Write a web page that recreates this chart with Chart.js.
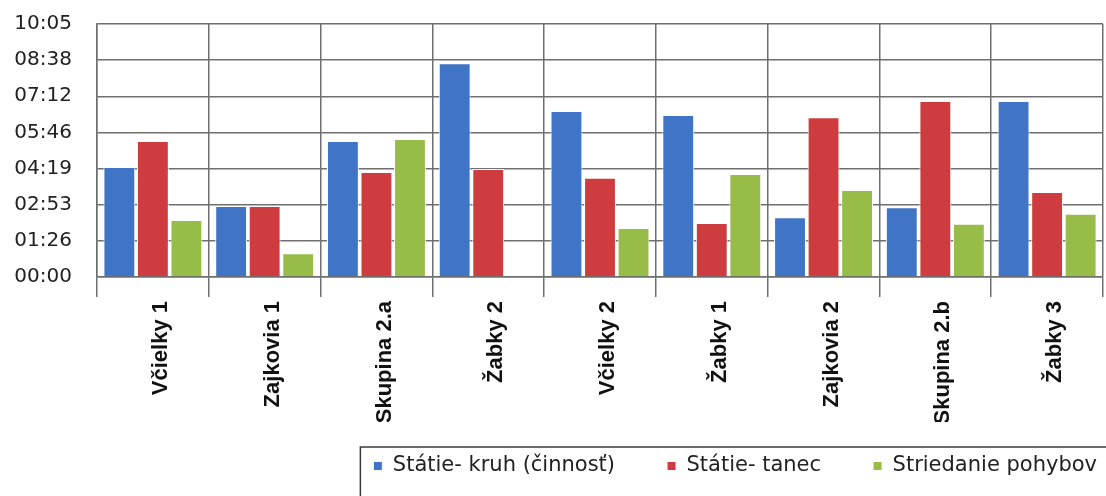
<!DOCTYPE html>
<html>
<head>
<meta charset="utf-8">
<script src="https://cdn.jsdelivr.net/npm/chart.js@4.4.1/dist/chart.umd.min.js"></script>
<style>
  html, body { margin: 0; padding: 0; background: #fff; }
  #wrap { width: 1106px; height: 496px; }
</style>
</head>
<body>
<div id="wrap"><canvas id="chart" width="1106" height="496"></canvas></div>
<script>
// Groups on the x axis
const GROUPS = ["Včielky 1", "Zajkovia 1", "Skupina 2.a", "Žabky 2", "Včielky 2", "Žabky 1", "Zajkovia 2", "Skupina 2.b", "Žabky 3"];

// Durations in seconds
const KRUH = [263, 170, 325, 511, 397, 387, 143, 167, 421];
const TANEC = [325, 170, 251, 258, 237, 129, 382, 421, 203];
const STRIEDANIE = [136, 57, 330, 0, 117, 246, 208, 127, 151];

const SERIES_NAMES = ["Státie- kruh (činnosť)", "Státie- tanec", "Striedanie pohybov"];

// Y ticks in seconds (Excel step 0.001 day = 86.4 s)
const Y_TICKS = [0, 86.4, 172.8, 259.2, 345.6, 432, 518.4, 604.8];

const COLORS = ["#3f74c6", "#cf3c3f", "#97bd48"];
const GRID = "#6f6f6f";

function mmss(sec) {
  const s = Math.round(sec);
  const m = Math.floor(s / 60);
  const r = s % 60;
  return String(m).padStart(2, "0") + ":" + String(r).padStart(2, "0");
}

// Move legend to the right edge / up a bit and draw a frame around it
const legendFrame = {
  id: "legendFrame",
  afterLayout(chart, args, opts) {
    const lg = chart.legend;
    lg.left += opts.dx;
    lg.right += opts.dx;
    lg.top += opts.dy;
    lg.bottom += opts.dy;
  },
  afterDraw(chart, args, opts) {
    const lg = chart.legend;
    const pad = lg.options.labels.padding;
    const size = lg.options.labels.font.size;
    const x = lg.right - lg.lineWidths[0] - 13;
    const y = lg.top + pad + size / 2 - 19;
    const ctx = chart.ctx;
    ctx.save();
    ctx.strokeStyle = "#3a3a3a";
    ctx.lineWidth = 1.5;
    ctx.strokeRect(x, y, chart.width - x + 10, chart.height - y + 10);
    ctx.restore();
  },
};

const ctx = document.getElementById("chart").getContext("2d");

new Chart(ctx, {
  type: "bar",
  data: {
    labels: GROUPS,
    datasets: [KRUH, TANEC, STRIEDANIE].map((d, i) => ({
      label: SERIES_NAMES[i],
      data: d,
      backgroundColor: COLORS[i],
      borderColor: "#ffffff",
      borderWidth: 1,
      categoryPercentage: 0.9,
      barPercentage: 0.95,
    })),
  },
  plugins: [legendFrame],
  options: {
    responsive: false,
    animation: false,
    layout: { padding: { top: 24, right: 3, bottom: -9, left: 0 } },
    plugins: {
      legend: {
        position: "bottom",
        align: "end",
        labels: {
          boxWidth: 9,
          boxHeight: 9,
          padding: 52,
          color: "#222",
          font: { family: "DejaVu Sans", size: 21 },
        },
      },
      tooltip: { enabled: false },
      legendFrame: { dx: 46, dy: -18.5 },
    },
    scales: {
      x: {
        grid: { color: GRID, lineWidth: 1.5, tickLength: 20, offset: true },
        border: { color: GRID, width: 1.5 },
        ticks: {
          minRotation: 90,
          maxRotation: 90,
          padding: 4,
          labelOffset: 8,
          color: "#111",
          font: { family: "Liberation Sans", size: 22, weight: "bold" },
        },
        afterFit(scale) {
          scale.height = 145;
        },
      },
      y: {
        min: 0,
        max: Y_TICKS[Y_TICKS.length - 1],
        afterBuildTicks(scale) {
          scale.ticks = Y_TICKS.map((v) => ({ value: v }));
        },
        grid: { color: GRID, lineWidth: 1.5, tickLength: 22, tickColor: "rgba(0,0,0,0)" },
        border: { color: GRID, width: 1.5 },
        ticks: {
          padding: 3,
          color: "#222",
          font: { family: "DejaVu Sans", size: 20 },
          callback: (v) => mmss(v),
        },
        afterFit(scale) {
          scale.width = 97;
        },
      },
    },
  },
});
</script>
</body>
</html>
